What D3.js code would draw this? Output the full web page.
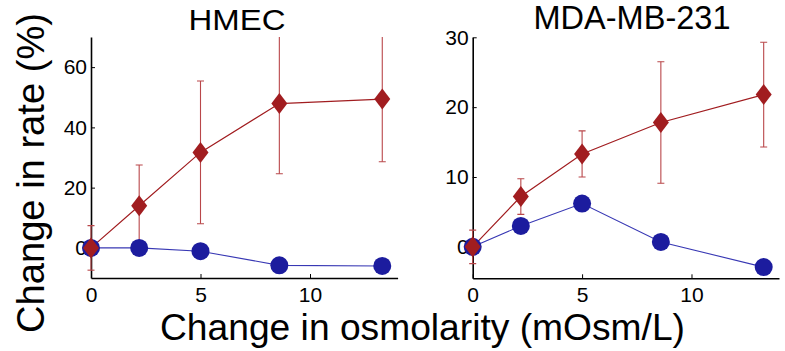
<!DOCTYPE html>
<html>
<head>
<meta charset="utf-8">
<script src="https://cdn.jsdelivr.net/npm/d3@7"></script>
<style>
  body { margin: 0; background: #fff; }
  text { font-family: "Liberation Sans", Arial, Helvetica, sans-serif; fill: #000; }
  .axis path, .axis line { stroke: #000; }
  .axis path { stroke-width: 1.6; }
  .axis line { stroke-width: 1; }
  .axis text { font-size: 21px; font-family: "Liberation Sans", Arial, sans-serif; }
</style>
</head>
<body>
<div id="wrapper"></div>
<script>
// data
const osmolarity = [0, 2.2, 5, 8.6, 13.3];

const hmecRed = [0, 14, 31.7, 47.9, 49.4];
const hmecRedErr = [7.4, 13.5, 23.7, 23.3, 20.8];
const hmecBlue = [0, 0, -1.1, -5.8, -6];

const mdaRed = [0, 7.2, 13.3, 17.8, 21.8];
const mdaRedErr = [2.4, 2.55, 3.3, 8.7, 7.5];
const mdaBlue = [0, 3.0, 6.2, 0.7, -2.9];

const xTicks = [0, 5, 10];
const hmecYTicks = [0, 20, 40, 60];
const mdaYTicks = [0, 10, 20, 30];

function drawChart() {
  //* Step 1. dimensions
  const dimensions = { width: 785, height: 351 };

  const panels = [
    {
      title: "HMEC", titleX: 237, titleY: 30, titleSize: 29, titleLen: 97,
      left: 91, right: 397.6, top: 37, bottom: 278,
      yDomain: [-10, 70], yTicks: hmecYTicks,
      red: hmecRed, redErr: hmecRedErr, blue: hmecBlue,
    },
    {
      title: "MDA-MB-231", titleX: 632, titleY: 28.5, titleSize: 33, titleLen: 197,
      left: 472.7, right: 779, top: 37.3, bottom: 278.3,
      yDomain: [-4.5, 30], yTicks: mdaYTicks,
      red: mdaRed, redErr: mdaRedErr, blue: mdaBlue,
    },
  ];

  //* Step 2. canvas
  const wrapper = d3.select("#wrapper")
    .append("svg")
    .attr("width", dimensions.width)
    .attr("height", dimensions.height);

  const redColor = "#a11d20";
  const errColor = "#b9474a";
  const blueColor = "#1c1c9e";
  const blueLine = "#3838b4";

  panels.forEach((p, i) => {
    //* Step 3. scales
    const xScale = d3.scaleLinear().domain([0, 14]).range([p.left, p.right]);
    const yScale = d3.scaleLinear().domain(p.yDomain).range([p.bottom, p.top]);

    const g = wrapper.append("g");

    const clipId = `clip-${i}`;
    g.append("clipPath").attr("id", clipId)
      .append("rect")
      .attr("x", p.left - 15)
      .attr("y", p.top)
      .attr("width", p.right - p.left + 30)
      .attr("height", p.bottom - p.top + 15);

    //* Step 4. axes
    g.append("g")
      .attr("class", "axis")
      .attr("transform", `translate(${p.left},0)`)
      .call(d3.axisLeft(yScale).tickValues(p.yTicks).tickSizeInner(-4).tickSizeOuter(0).tickPadding(4));

    g.append("g")
      .attr("class", "axis")
      .attr("transform", `translate(0,${p.bottom})`)
      .call(d3.axisBottom(xScale).tickValues(xTicks).tickSizeInner(-4).tickSizeOuter(0).tickPadding(9));

    g.selectAll(".axis .domain").attr("fill", "none");

    g.append("text")
      .attr("x", p.titleX)
      .attr("y", p.titleY)
      .attr("text-anchor", "middle")
      .attr("font-size", p.titleSize)
      .attr("textLength", p.titleLen)
      .attr("lengthAdjust", "spacingAndGlyphs")
      .text(p.title);

    //* Step 5. data
    const plot = g.append("g").attr("clip-path", `url(#${clipId})`);
    const redData = osmolarity.map((x, j) => ({ x, y: p.red[j], e: p.redErr[j] }));
    const blueData = osmolarity.map((x, j) => ({ x, y: p.blue[j] }));

    const line = d3.line().x((d) => xScale(d.x)).y((d) => yScale(d.y));

    plot.append("path")
      .attr("d", line(blueData))
      .attr("fill", "none")
      .attr("stroke", blueLine)
      .attr("stroke-width", 1.1);

    plot.append("path")
      .attr("d", line(redData))
      .attr("fill", "none")
      .attr("stroke", redColor)
      .attr("stroke-width", 1.2);

    const errGroup = plot.append("g")
      .attr("stroke", errColor)
      .attr("stroke-width", 1.1);
    redData.forEach((d) => {
      const cx = xScale(d.x);
      const y1 = yScale(d.y - d.e);
      const y2 = yScale(d.y + d.e);
      errGroup.append("line").attr("x1", cx).attr("x2", cx).attr("y1", y1).attr("y2", y2);
      errGroup.append("line").attr("x1", cx - 3.5).attr("x2", cx + 3.5).attr("y1", y1).attr("y2", y1);
      errGroup.append("line").attr("x1", cx - 3.5).attr("x2", cx + 3.5).attr("y1", y2).attr("y2", y2);
    });

    g.selectAll(".blue-dot")
      .data(blueData)
      .join("circle")
      .attr("class", "blue-dot")
      .attr("cx", (d) => xScale(d.x))
      .attr("cy", (d) => yScale(d.y))
      .attr("r", 9)
      .attr("fill", blueColor);

    g.selectAll(".red-diamond")
      .data(redData)
      .join("path")
      .attr("class", "red-diamond")
      .attr("d", (d) => {
        const cx = xScale(d.x), cy = yScale(d.y);
        return `M${cx},${cy - 10.5}L${cx + 8},${cy}L${cx},${cy + 10.5}L${cx - 8},${cy}Z`;
      })
      .attr("fill", redColor);
  });

  //* Step 6. shared labels
  wrapper.append("text")
    .attr("transform", "translate(44,173) rotate(-90)")
    .attr("text-anchor", "middle")
    .attr("font-size", 39)
    .attr("textLength", 320)
    .attr("lengthAdjust", "spacingAndGlyphs")
    .text("Change in rate (%)");

  wrapper.append("text")
    .attr("x", 422.5)
    .attr("y", 339.5)
    .attr("text-anchor", "middle")
    .attr("font-size", 36)
    .attr("textLength", 525)
    .attr("lengthAdjust", "spacingAndGlyphs")
    .text("Change in osmolarity (mOsm/L)");
}

drawChart();
</script>
</body>
</html>
